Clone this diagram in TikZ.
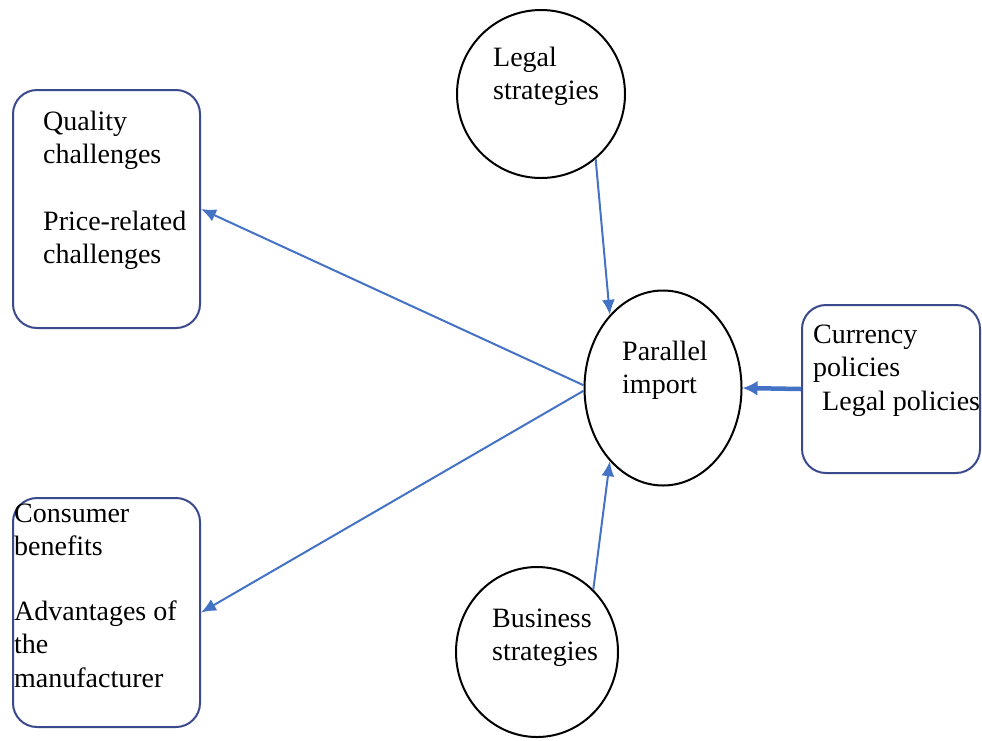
\documentclass[tikz,border=0pt]{standalone}
\usepackage{fontspec}
\setmainfont{Liberation Serif}
\usetikzlibrary{arrows.meta,shapes.geometric}
\definecolor{arrowblue}{HTML}{4472C4}
\definecolor{boxblue}{HTML}{3A4A8C}
\begin{document}
\begin{tikzpicture}[x=1pt,y=-1pt,
  rbox/.style={draw=boxblue,line width=2pt,rounded corners=24pt,inner sep=0pt},
  circ/.style={draw=black,line width=2pt,ellipse,inner sep=0pt},
  lbl/.style={anchor=base west,inner sep=0pt,font=\fontsize{28}{33}\selectfont},
  conn/.style={draw=arrowblue,line width=2pt,-{Latex[length=15pt,width=13pt]}},
  thickconn/.style={draw=arrowblue,line width=4.5pt,-{Latex[length=15pt,width=15pt]}}]
\useasboundingbox (0,0) rectangle (982,740);
% shapes
\node[circ,minimum width=168pt,minimum height=168pt] (legal) at (541,94) {};
\node[circ,minimum width=157pt,minimum height=195pt] (par) at (663,388) {};
\node[circ,minimum width=162pt,minimum height=170pt] (bus) at (537,652) {};
\node[rbox,minimum width=187pt,minimum height=238pt] (qual) at (106.5,209) {};
\node[rbox,minimum width=187pt,minimum height=229pt] (cons) at (106.5,612.5) {};
\node[rbox,minimum width=178pt,minimum height=168pt] (cur) at (891,389) {};
% labels
\node[lbl] (l1) at (493,66) {Legal};
\node[lbl] (l2) at (493,99) {strategies};
\node[lbl] (p1) at (622,360) {Parallel};
\node[lbl] (p2) at (622,393) {import};
\node[lbl] (b1) at (492,627) {Business};
\node[lbl] (b2) at (492,660) {strategies};
\node[lbl] (c1) at (813,343) {Currency};
\node[lbl] (c2) at (813,376) {policies};
\node[lbl] (c3) at (822,410) {Legal policies};
\node[lbl] (q1) at (43,130) {Quality};
\node[lbl] (q2) at (43,163) {challenges};
\node[lbl] (q3) at (43,230) {Price-related};
\node[lbl] (q4) at (43,263) {challenges};
\node[lbl] (k1) at (14,522) {Consumer};
\node[lbl] (k2) at (14,555) {benefits};
\node[lbl] (k3) at (14,620) {Advantages of};
\node[lbl] (k4) at (14,653) {the};
\node[lbl] (k5) at (14,687) {manufacturer};
% connectors
\draw[conn] (legal.-50) -- (par.126);
\draw[conn] (bus.48) -- (par.-126);
\draw[thickconn] (cur.west) -- (par.east);
\draw[conn] (par.178) -- (qual.east);
\draw[conn] (par.182) -- (cons.east);
\end{tikzpicture}
\end{document}
